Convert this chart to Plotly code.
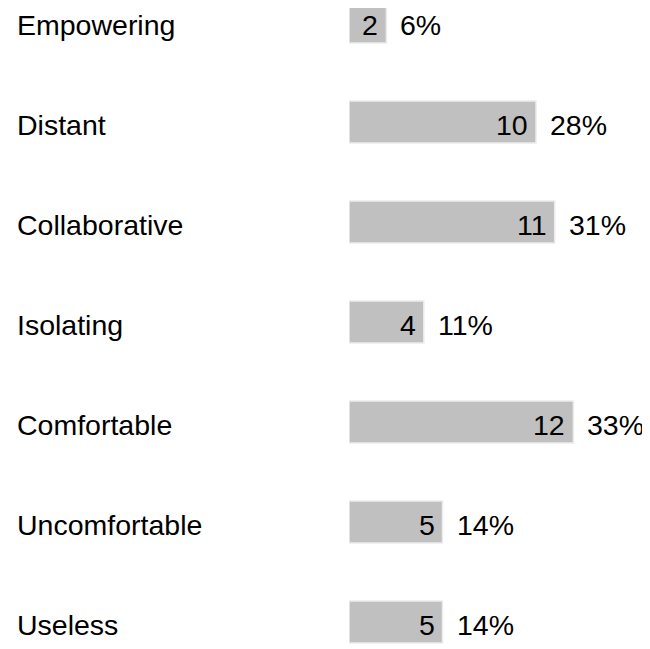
import plotly.graph_objects as go

categories = ["Empowering", "Distant", "Collaborative", "Isolating", "Comfortable", "Uncomfortable", "Useless"]
counts = [2, 10, 11, 4, 12, 5, 5]
percents = ["6%", "28%", "31%", "11%", "33%", "14%", "14%"]

FONT = "Liberation Sans, Arial, sans-serif"
FS = 28.5

W, H = 642, 641
PX_PER_UNIT = 18.7
BAR_X0 = 341
YS = -3

fig = go.Figure()
fig.add_trace(go.Bar(
    x=counts, y=categories, orientation="h",
    marker=dict(color="#c0c0c0", line=dict(color="#ececec", width=1.5)),
    width=0.42, hoverinfo="skip",
))

annotations = []
for c, v, p in zip(categories, counts, percents):
    annotations.append(dict(x=v, y=c, xref="x", yref="y", text=str(v), showarrow=False,
                            xanchor="right", yanchor="middle", xshift=-6, yshift=YS,
                            font=dict(family=FONT, size=FS, color="#000")))
    annotations.append(dict(x=v, y=c, xref="x", yref="y", text=p, showarrow=False,
                            xanchor="left", yanchor="middle", xshift=12, yshift=YS,
                            font=dict(family=FONT, size=FS, color="#000")))
    annotations.append(dict(x=7 / W, y=c, xref="paper", yref="y", text=c, showarrow=False,
                            xanchor="left", yanchor="middle", yshift=YS,
                            font=dict(family=FONT, size=FS, color="#000")))

fig.update_layout(
    width=W, height=H,
    margin=dict(l=0, r=0, t=0, b=0),
    paper_bgcolor="white", plot_bgcolor="white",
    showlegend=False,
    annotations=annotations,
    xaxis=dict(domain=[BAR_X0 / W, 1], range=[0, (W - BAR_X0) / PX_PER_UNIT], visible=False, fixedrange=True),
    yaxis=dict(categoryorder="array", categoryarray=categories,
               range=[6.27, -0.14], visible=False, fixedrange=True),
)

fig.write_html("out.html", config={"displayModeBar": False})
